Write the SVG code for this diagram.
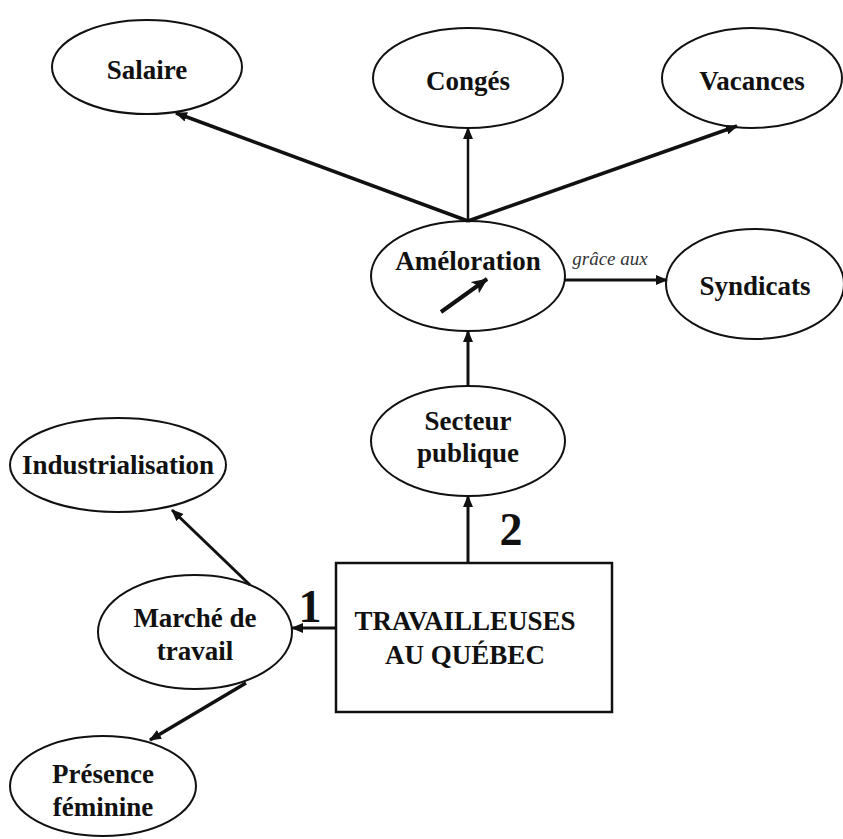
<svg xmlns="http://www.w3.org/2000/svg" width="843" height="839" viewBox="0 0 843 839">
  <defs>
    <marker id="head" viewBox="0 0 12 10" refX="11" refY="5" markerWidth="12" markerHeight="10" markerUnits="userSpaceOnUse" orient="auto">
      <path d="M0,0 L12,5 L0,10 Z" fill="#111"/>
    </marker>
    <marker id="headBig" viewBox="0 0 16 14" refX="15" refY="7" markerWidth="16" markerHeight="14" markerUnits="userSpaceOnUse" orient="auto">
      <path d="M0,0 L16,7 L0,14 L4,7 Z" fill="#111"/>
    </marker>
  </defs>
  <style>
    .node { fill: #fff; stroke: #111; stroke-width: 2; }
    .lbl { font-family: "Liberation Serif", "Times New Roman", serif; font-weight: bold; font-size: 27px; fill: #111; text-anchor: middle; }
    .num { font-family: "Liberation Serif", "Times New Roman", serif; font-weight: bold; font-size: 46px; fill: #111; text-anchor: middle; }
    .edge { fill: none; stroke: #111; stroke-width: 3; marker-end: url(#head); }
    .note { font-family: "Liberation Serif", "Times New Roman", serif; font-style: italic; font-size: 19px; fill: #333; text-anchor: middle; }
  </style>
  <rect width="843" height="839" fill="#fff"/>

  <g id="salaire">
    <ellipse class="node" cx="147" cy="67" rx="95" ry="47"/>
    <text class="lbl" x="147" y="79">Salaire</text>
  </g>
  <g id="conges">
    <ellipse class="node" cx="468" cy="78" rx="95" ry="50"/>
    <text class="lbl" x="468" y="90">Congés</text>
  </g>
  <g id="vacances">
    <ellipse class="node" cx="752" cy="78" rx="90" ry="50"/>
    <text class="lbl" x="752" y="90">Vacances</text>
  </g>
  <g id="amelioration">
    <ellipse class="node" cx="468" cy="276" rx="97" ry="55"/>
    <text class="lbl" x="468" y="270">Améloration</text>
    <!-- upward trend sign under the label -->
    <line x1="441" y1="312" x2="487" y2="279" stroke="#111" stroke-width="4" marker-end="url(#headBig)"/>
  </g>
  <g id="syndicats">
    <ellipse class="node" cx="755" cy="284" rx="89" ry="55"/>
    <text class="lbl" x="755" y="295">Syndicats</text>
  </g>
  <g id="secteur">
    <ellipse class="node" cx="468" cy="441" rx="97" ry="55"/>
    <text class="lbl" x="468" y="430">Secteur</text>
    <text class="lbl" x="468" y="462">publique</text>
  </g>
  <g id="industrialisation">
    <ellipse class="node" cx="118" cy="465" rx="108" ry="47"/>
    <text class="lbl" x="118" y="474">Industrialisation</text>
  </g>
  <g id="marche">
    <ellipse class="node" cx="195" cy="632" rx="97" ry="57"/>
    <text class="lbl" x="195" y="627">Marché de</text>
    <text class="lbl" x="195" y="660">travail</text>
  </g>
  <g id="presence">
    <ellipse class="node" cx="103" cy="786" rx="93" ry="50"/>
    <text class="lbl" x="103" y="783">Présence</text>
    <text class="lbl" x="103" y="816">féminine</text>
  </g>
  <g id="travailleuses">
    <rect class="node" x="336" y="563" width="276" height="149" style="stroke-width:2.5"/>
    <text class="lbl" x="465" y="630">TRAVAILLEUSES</text>
    <text class="lbl" x="465" y="664">AU QUÉBEC</text>
  </g>

  <!-- connectors, drawn over the nodes so the heads meet the outlines -->
  <g id="connectors">
    <line class="edge" x1="468" y1="221" x2="176" y2="113" style="stroke-width:3.5"/>
    <line class="edge" x1="468" y1="221" x2="468" y2="128" style="stroke-width:2.5"/>
    <line class="edge" x1="468" y1="221" x2="737" y2="126" style="stroke-width:3.5"/>
    <line class="edge" x1="565" y1="280" x2="667" y2="280"/>
    <text class="note" x="610" y="265">grâce aux</text>
    <line class="edge" x1="468" y1="386" x2="468" y2="331"/>
    <line class="edge" x1="468" y1="563" x2="468" y2="496"/>
    <text class="num" x="511" y="545">2</text>
    <line class="edge" x1="336" y1="628" x2="292" y2="628"/>
    <text class="num" x="310" y="622">1</text>
    <line class="edge" x1="250" y1="585" x2="172" y2="510"/>
    <line class="edge" x1="246" y1="683" x2="150" y2="740" style="stroke-width:3.5"/>
  </g>
</svg>
